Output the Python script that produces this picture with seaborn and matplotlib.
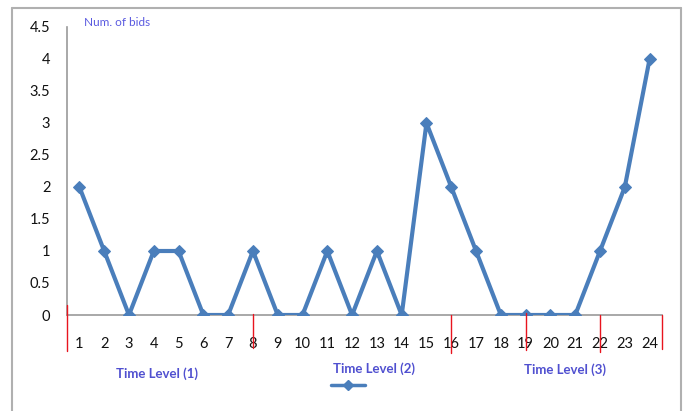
import matplotlib
matplotlib.use("Agg")
import matplotlib.pyplot as plt
from matplotlib.lines import Line2D
import seaborn as sns
import pandas as pd

# Bids per time slot
slots = list(range(1, 25))
bids = [2, 1, 0, 1, 1, 0, 0, 1, 0, 0, 1, 0, 1, 0, 3, 2, 1, 0, 0, 0, 0, 1, 2, 4]
y_ticks = [0, 0.5, 1, 1.5, 2, 2.5, 3, 3.5, 4, 4.5]
y_tick_labels = ["0", "0.5", "1", "1.5", "2", "2.5", "3", "3.5", "4", "4.5"]

# Time-level boundaries (slot positions) and the level captions
boundaries = [0.5, 8, 16, 19, 22, 24.5]
level_names = ["Time Level (1)", "Time Level (2)", "Time Level (3)"]
level_centers = [4.15, 12.9, 20.6]
level_y = [-0.91, -0.84, -0.86]

df = pd.DataFrame({"slot": slots, "bids": bids})

sns.set_style("white")
plt.rcParams["font.family"] = ["Lato", "DejaVu Sans"]

W, H = 686, 411
fig = plt.figure(figsize=(W / 100, H / 100), dpi=100)
ax = fig.add_axes([67 / W, (H - 315) / H, (662 - 67) / W, (315 - 27) / H])

line_color = "#4a7ebb"
sns.lineplot(data=df, x="slot", y="bids", ax=ax, color=line_color, linewidth=3,
             marker="D", markersize=6.5, markeredgecolor=line_color)

ax.set_xlim(0.5, 24.5)
ax.set_ylim(0, 4.5)
ax.set_xticks(slots)
ax.set_xticklabels([str(s) for s in slots], fontsize=10.5, color="#111111")
ax.set_yticks(y_ticks)
ax.set_yticklabels(y_tick_labels, fontsize=10.5, color="#111111")
ax.tick_params(axis="x", length=0, pad=16)
ax.tick_params(axis="y", length=0, pad=12)
ax.set_xlabel("")
ax.set_ylabel("")
for side in ["top", "right"]:
    ax.spines[side].set_visible(False)
for side in ["left", "bottom"]:
    ax.spines[side].set_color("#9a9a9a")
    ax.spines[side].set_linewidth(1.2)
ax.spines["bottom"].set_zorder(1)

# Red markers separating the time levels
red_spans = [(0.16, -0.56), (0.02, -0.52), (0.0, -0.59), (0.03, -0.55), (0.0, -0.58), (0.0, -0.53)]
for xb, (y0, y1) in zip(boundaries, red_spans):
    ax.plot([xb, xb], [y0, y1], color="#e8141e", linewidth=1.0, clip_on=False, zorder=5)

text_color = "#5050d0"
for name, xc, yc in zip(level_names, level_centers, level_y):
    ax.text(xc, yc, name, ha="center", va="center", fontsize=9.5,
            color=text_color, fontweight="bold", clip_on=False)

fig.text(84 / W, 1 - 23 / H, "Num. of bids", ha="left", va="center",
         fontsize=8.5, color="#5a5ae0")

# Legend entry (series without a name)
handle = Line2D([0], [0], color=line_color, linewidth=2.5, marker="D",
                markersize=5.5, markeredgecolor=line_color)
fig.legend([handle], [""], loc="center", bbox_to_anchor=(348 / W, 1 - 386 / H),
           frameon=False, handlelength=2.5, handletextpad=0, borderpad=0)

# Outer chart border
border = "#b0b0b0"
fig.add_artist(Line2D([12 / W, 12 / W], [0, 1 - 8 / H], color=border, linewidth=1.5,
                      transform=fig.transFigure))
fig.add_artist(Line2D([12 / W, 681 / W], [1 - 8 / H, 1 - 8 / H], color=border, linewidth=1.5,
                      transform=fig.transFigure))
fig.add_artist(Line2D([681 / W, 681 / W], [0, 1 - 8 / H], color=border, linewidth=1.5,
                      transform=fig.transFigure))

fig.savefig("out.png", dpi=100)
